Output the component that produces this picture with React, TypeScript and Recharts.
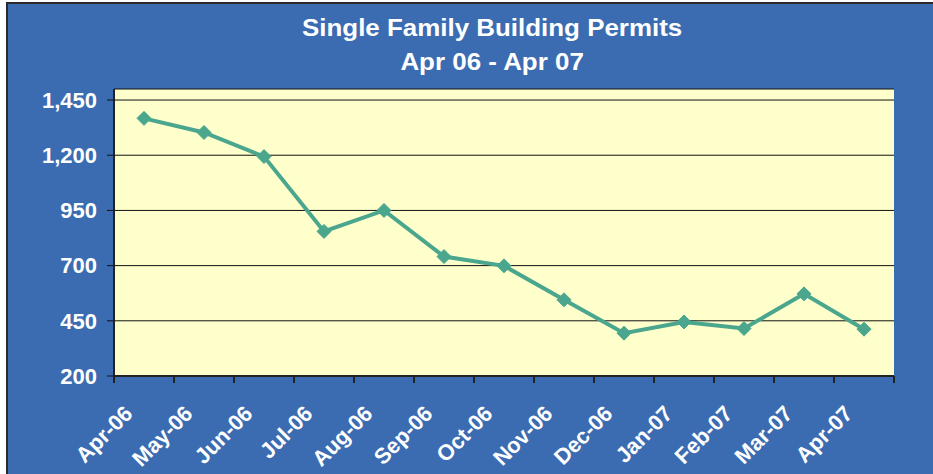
import React from 'react';
import { LineChart, Line, XAxis, YAxis, CartesianGrid } from 'recharts';

const categories = ['Apr-06', 'May-06', 'Jun-06', 'Jul-06', 'Aug-06', 'Sep-06', 'Oct-06', 'Nov-06', 'Dec-06', 'Jan-07', 'Feb-07', 'Mar-07', 'Apr-07'];
const permits = [1367, 1303, 1194, 855, 950, 741, 699, 545, 394, 445, 415, 572, 412];
const yTicks = [200, 450, 700, 950, 1200, 1450];
const titleLines = ['Single Family Building Permits', 'Apr 06 - Apr 07'];

const data = categories.map((month, i) => ({ month, permits: permits[i] }));

const FONT = '"Liberation Sans", Arial, sans-serif';
const LINE_COLOR = '#4BA68E';
const BG = '#3B6CB2';

const Diamond = (props: any) => {
  const { cx, cy } = props;
  if (cx == null || cy == null) return null;
  const r = 7;
  return (
    <polygon
      points={`${cx},${cy - r} ${cx + r},${cy} ${cx},${cy + r} ${cx - r},${cy}`}
      fill={LINE_COLOR}
      stroke={LINE_COLOR}
    />
  );
};

const XTick = (props: any) => {
  const { x, y, payload, index } = props;
  const half = 30;
  const tx = x - 10;
  const ty = y + 39;
  return (
    <g>
      <line x1={x - half} y1={y} x2={x - half} y2={y + 7} stroke="#222" strokeWidth={2} />
      {index === categories.length - 1 && (
        <line x1={x + half} y1={y} x2={x + half} y2={y + 7} stroke="#222" strokeWidth={2} />
      )}
      <text
        x={tx}
        y={ty}
        textAnchor="end"
        fill="#fff"
        fontSize={22}
        fontWeight="bold"
        fontFamily={FONT}
        transform={`rotate(-45 ${tx} ${ty})`}
      >
        {payload.value}
      </text>
    </g>
  );
};

export default function App() {
  return (
    <div style={{ position: 'absolute', left: 0, top: 0, width: 933, height: 474, overflow: 'hidden', background: '#fff' }}>
      <div
        style={{
          position: 'absolute',
          left: 6,
          top: 2,
          width: 960,
          height: 500,
          background: BG,
          border: '2px solid #2a2a2a',
          boxSizing: 'border-box',
        }}
      />
      <div
        style={{
          position: 'absolute',
          left: 0,
          top: 11,
          width: 933,
          paddingLeft: 61,
          boxSizing: 'border-box',
          textAlign: 'center',
          color: '#fff',
          fontFamily: FONT,
          fontWeight: 'bold',
          fontSize: 24,
          lineHeight: '34px',
        }}
      >
        {titleLines.map((t) => (
          <div key={t} style={{ transform: 'scaleX(1.08)', transformOrigin: '497px 0' }}>{t}</div>
        ))}
      </div>
      <div style={{ position: 'absolute', left: 0, top: 0 }}>
        <LineChart width={933} height={474} data={data} margin={{ top: 89, right: 39, bottom: 0, left: 0 }}>
          <CartesianGrid vertical={false} stroke="#111" fill="#FFFFCC" fillOpacity={1} />
          <XAxis
            xAxisId="top"
            orientation="top"
            dataKey="month"
            height={0}
            tick={false}
            tickLine={false}
            axisLine={{ stroke: '#8a8a8a', strokeWidth: 2 }}
          />
          <YAxis
            yAxisId="right"
            orientation="right"
            width={0}
            domain={[200, 1500]}
            tick={false}
            tickLine={false}
            axisLine={{ stroke: '#8a8a8a', strokeWidth: 2 }}
          />
          <XAxis
            dataKey="month"
            interval={0}
            height={98}
            padding={{ left: 30, right: 30 }}
            tickSize={0}
            tickMargin={0}
            tickLine={false}
            axisLine={{ stroke: '#222', strokeWidth: 2 }}
            tick={<XTick />}
          />
          <YAxis
            width={114}
            domain={[200, 1500]}
            ticks={yTicks}
            allowDataOverflow
            tickSize={7}
            tickMargin={10}
            tickLine={{ stroke: '#111' }}
            axisLine={{ stroke: '#222', strokeWidth: 2 }}
            tickFormatter={(v: number) => v.toLocaleString('en-US')}
            tick={{ fill: '#fff', fontSize: 22, fontWeight: 'bold', fontFamily: FONT }}
          />
          <Line
            type="linear"
            dataKey="permits"
            stroke={LINE_COLOR}
            strokeWidth={4}
            dot={<Diamond />}
            activeDot={false}
            isAnimationActive={false}
          />
        </LineChart>
      </div>
    </div>
  );
}
